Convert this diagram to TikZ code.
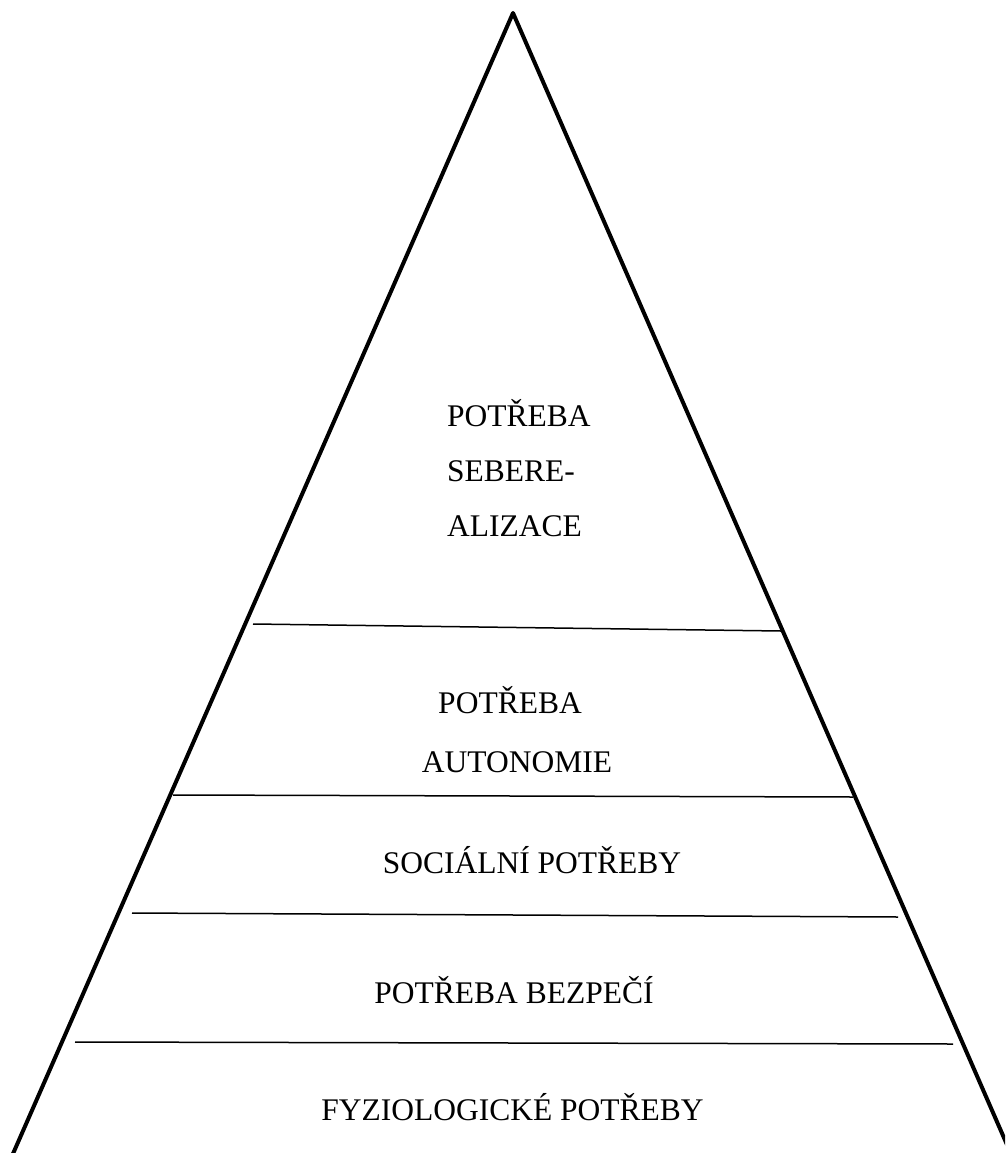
\documentclass[tikz,border=0pt]{standalone}
\usepackage{fontspec}
\setmainfont{Liberation Serif}
\begin{document}
\begin{tikzpicture}[x=1pt,y=-1pt,
  edge/.style={line width=4pt,line join=round,line cap=round},
  divider/.style={line width=1.5pt},
  lbl/.style={inner sep=0pt,font=\fontsize{31.5}{38}\selectfont}]
\useasboundingbox (0,0) rectangle (1005,1153);
\clip (0,0) rectangle (1005,1153);
% triangle
\coordinate (apex) at (513,13);
\coordinate (bl) at (12,1156);
\coordinate (br) at (1008,1147);
\draw[edge] (bl) -- (apex) -- (br);
% dividers
\coordinate (a1) at (253,624);  \coordinate (b1) at (781,631);
\coordinate (a2) at (173,795);  \coordinate (b2) at (853,797);
\coordinate (a3) at (132,913);  \coordinate (b3) at (898,917);
\coordinate (a4) at (75,1042);  \coordinate (b4) at (953,1044);
\draw[divider] (a1) -- (b1);
\draw[divider] (a2) -- (b2);
\draw[divider] (a3) -- (b3);
\draw[divider] (a4) -- (b4);
% labels
\node[lbl,anchor=base west] (t1) at (447,426) {POTŘEBA};
\node[lbl,anchor=base west] (t2) at (447,481) {SEBERE-};
\node[lbl,anchor=base west] (t3) at (447,536) {ALIZACE};
\node[lbl,anchor=base] (t4) at (510,713) {POTŘEBA};
\node[lbl,anchor=base] (t5) at (517,772) {AUTONOMIE};
\node[lbl,anchor=base] (t6) at (532,873) {SOCIÁLNÍ POTŘEBY};
\node[lbl,anchor=base] (t7) at (514,1003) {POTŘEBA BEZPEČÍ};
\node[lbl,anchor=base] (t8) at (512.5,1120) {FYZIOLOGICKÉ POTŘEBY};
\end{tikzpicture}
\end{document}
